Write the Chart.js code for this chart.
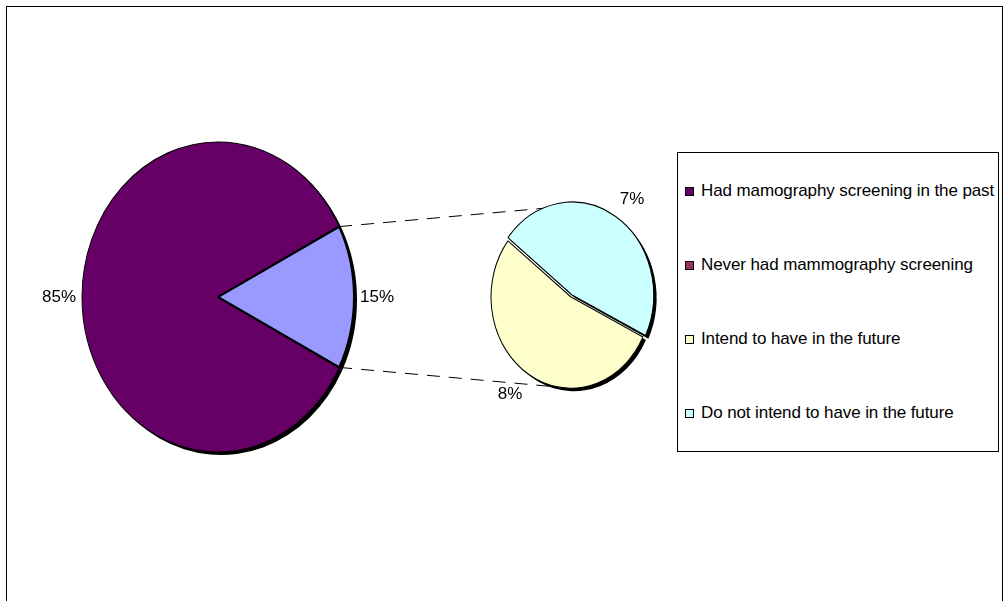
<!DOCTYPE html>
<html>
<head>
<meta charset="utf-8">
<script src="https://cdn.jsdelivr.net/npm/chart.js@4.4.1/dist/chart.umd.min.js"></script>
<style>
    html, body { margin: 0; padding: 0; background: #fff; }
    body { width: 1005px; height: 601px; position: relative; overflow: hidden; font-family: "Liberation Sans", Arial, sans-serif; }
    #frame { position: absolute; left: 6px; top: 6px; width: 997px; height: 700px; border: 1px solid #000; box-sizing: border-box; }
    canvas.layer { position: absolute; left: 0; top: 0; }
    #legend { position: absolute; left: 677px; top: 152px; width: 322px; height: 300px; border: 1px solid #000; box-sizing: border-box; background: #fff; }
    #legend .item { position: absolute; left: 7px; height: 20px; display: flex; align-items: center; font-size: 17px; letter-spacing: -0.1px; color: #000; white-space: nowrap; }
    #legend .swatch { width: 7px; height: 7px; border: 1px solid #000; margin-right: 7px; }
</style>
</head>
<body>
<div id="frame"></div>
<canvas id="mainPie" class="layer" width="1005" height="601"></canvas>
<canvas id="subPie" class="layer" width="1005" height="601"></canvas>
<div id="legend"></div>
<script>
const mainLabels = ["Had mamography screening in the past", "Never had mammography screening"];
const mainValues = [85, 15];
const subLabels = ["Intend to have in the future", "Do not intend to have in the future"];
const subValues = [8, 7];

const mainColors = ["#660066", "#9999FF"];
const subColors = ["#FFFFCC", "#CCFFFF"];
const legendColors = ["#660066", "#993366", "#FFFFCC", "#CCFFFF"];

// pies are drawn squashed into tall ellipses like the original
const STRETCH = 1.14;
const SHADOW = 3;
const total = mainValues.reduce((a, b) => a + b, 0);

function stretchAbout(ctx, arc) {
    ctx.translate(arc.x, arc.y);
    ctx.scale(1, STRETCH);
    ctx.translate(-arc.x, -arc.y);
}

function ellipsePlugin(labelGap) {
    return {
        id: "ellipse",
        beforeDatasetsDraw(chart) {
            const ctx = chart.ctx;
            const arcs = chart.getDatasetMeta(0).data;
            // drop shadow behind every slice, offset down-right
            arcs.forEach((arc) => {
                const off = (arc.options.offset || 0) / 4;
                const half = (arc.startAngle + arc.endAngle) / 2;
                const fix = 1 - Math.sin(Math.min(Math.PI, arc.circumference || 0));
                ctx.save();
                ctx.translate(SHADOW, SHADOW);
                stretchAbout(ctx, arc);
                ctx.translate(Math.cos(half) * off, Math.sin(half) * off);
                ctx.beginPath();
                ctx.moveTo(arc.x, arc.y);
                ctx.arc(arc.x, arc.y, arc.outerRadius + off * fix, arc.startAngle, arc.endAngle);
                ctx.closePath();
                ctx.fillStyle = "#000";
                ctx.fill();
                ctx.restore();
            });
            ctx.save();
            stretchAbout(ctx, arcs[0]);
        },
        afterDatasetsDraw(chart) {
            const ctx = chart.ctx;
            ctx.restore();
            const values = chart.data.datasets[0].data;
            ctx.save();
            ctx.fillStyle = "#000";
            ctx.font = '17px "Liberation Sans", Arial, sans-serif';
            chart.getDatasetMeta(0).data.forEach((arc, i) => {
                const mid = (arc.startAngle + arc.endAngle) / 2;
                const cos = Math.cos(mid);
                const sin = Math.sin(mid);
                const r = arc.outerRadius + labelGap;
                const x = arc.x + cos * r;
                const y = arc.y + sin * r * STRETCH;
                ctx.textAlign = cos > 0.3 ? "left" : cos < -0.3 ? "right" : "center";
                ctx.textBaseline = sin > 0.3 ? "top" : sin < -0.3 ? "bottom" : "middle";
                ctx.fillText(Math.round(values[i] / total * 100) + "%", x, y);
            });
            ctx.restore();
        }
    };
}

const mainChart = new Chart(document.getElementById("mainPie"), {
    type: "pie",
    data: {
        labels: mainLabels,
        datasets: [{
            data: mainValues,
            backgroundColor: mainColors,
            borderColor: "#000",
            borderWidth: [1, 2]
        }]
    },
    options: {
        responsive: false,
        animation: false,
        events: [],
        rotation: 117,
        radius: 136,
        layout: { padding: { left: 0, right: 569, top: 0, bottom: 7 } },
        plugins: { legend: { display: false }, tooltip: { enabled: false } }
    },
    plugins: [ellipsePlugin(6)]
});

const connectorPlugin = {
    id: "connector",
    beforeDatasetsDraw(chart) {
        const ctx = chart.ctx;
        const slice = mainChart.getDatasetMeta(0).data[1];
        const sub = chart.getDatasetMeta(0).data[0];
        const R = slice.outerRadius;
        const pts = [
            [slice.x + R * Math.cos(slice.startAngle), slice.y + R * Math.sin(slice.startAngle) * STRETCH, sub.x, sub.y - sub.outerRadius * STRETCH],
            [slice.x + R * Math.cos(slice.endAngle), slice.y + R * Math.sin(slice.endAngle) * STRETCH, sub.x, sub.y + sub.outerRadius * STRETCH]
        ];
        ctx.save();
        ctx.strokeStyle = "#000";
        ctx.lineWidth = 1;
        ctx.setLineDash([13, 9]);
        pts.forEach(([x1, y1, x2, y2]) => {
            ctx.beginPath();
            ctx.moveTo(x1, y1);
            ctx.lineTo(x2, y2);
            ctx.stroke();
        });
        ctx.restore();
    }
};

new Chart(document.getElementById("subPie"), {
    type: "pie",
    data: {
        labels: subLabels,
        datasets: [{
            data: subValues,
            backgroundColor: subColors,
            borderColor: "#000",
            borderWidth: 1,
            offset: [0, 8]
        }]
    },
    options: {
        responsive: false,
        animation: false,
        events: [],
        rotation: 116,
        radius: 80,
        layout: { padding: { left: 371, right: 234, top: 0, bottom: 7 } },
        plugins: { legend: { display: false }, tooltip: { enabled: false } }
    },
    plugins: [connectorPlugin, ellipsePlugin(12)]
});

const legend = document.getElementById("legend");
mainLabels.concat(subLabels).forEach((label, i) => {
    const item = document.createElement("div");
    item.className = "item";
    item.style.top = (38 + i * 74 - 10) + "px";
    const swatch = document.createElement("span");
    swatch.className = "swatch";
    swatch.style.background = legendColors[i];
    const text = document.createElement("span");
    text.textContent = label;
    item.appendChild(swatch);
    item.appendChild(text);
    legend.appendChild(item);
});
</script>
</body>
</html>
